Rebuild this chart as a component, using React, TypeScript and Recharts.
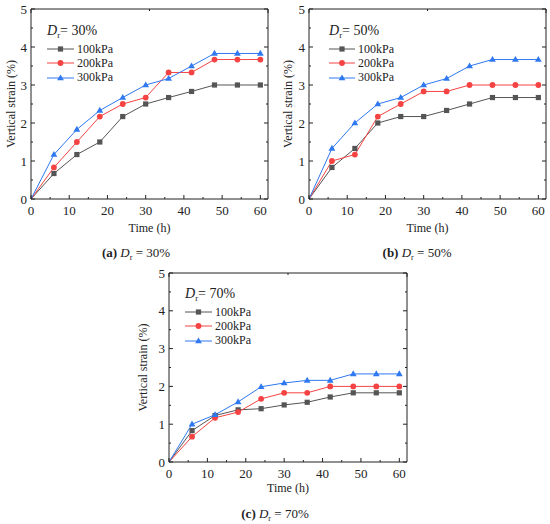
import React from "react";
import { LineChart, Line, XAxis, YAxis, Legend } from "recharts";

const FONT = '"Liberation Serif", "Times New Roman", serif';
const INK = "#222";

const hours = [0, 6, 12, 18, 24, 30, 36, 42, 48, 54, 60];
const loads = ["100kPa", "200kPa", "300kPa"];
const colors = ["#555555", "#f54343", "#2f78f0"];

// Dr = 30%
const dr30_100 = [0, 0.67, 1.17, 1.5, 2.17, 2.5, 2.67, 2.83, 3.0, 3.0, 3.0];
const dr30_200 = [0, 0.83, 1.5, 2.17, 2.5, 2.67, 3.33, 3.33, 3.67, 3.67, 3.67];
const dr30_300 = [0, 1.17, 1.83, 2.33, 2.67, 3.0, 3.17, 3.5, 3.83, 3.83, 3.83];

// Dr = 50%
const dr50_100 = [0, 0.83, 1.33, 2.0, 2.17, 2.17, 2.33, 2.5, 2.67, 2.67, 2.67];
const dr50_200 = [0, 1.0, 1.17, 2.17, 2.5, 2.83, 2.83, 3.0, 3.0, 3.0, 3.0];
const dr50_300 = [0, 1.33, 2.0, 2.5, 2.67, 3.0, 3.17, 3.5, 3.67, 3.67, 3.67];

// Dr = 70%
const dr70_100 = [0, 0.83, 1.23, 1.38, 1.41, 1.51, 1.58, 1.72, 1.83, 1.83, 1.83];
const dr70_200 = [0, 0.67, 1.17, 1.32, 1.67, 1.83, 1.83, 2.0, 2.0, 2.0, 2.0];
const dr70_300 = [0, 1.0, 1.25, 1.59, 1.99, 2.09, 2.16, 2.16, 2.33, 2.33, 2.33];

// major + minor ticks
const xTicks = [0, 5, 10, 15, 20, 25, 30, 35, 40, 45, 50, 55, 60];
const yTicks = [0, 0.5, 1, 1.5, 2, 2.5, 3, 3.5, 4, 4.5, 5];

const panels = [
  {
    tag: "a",
    density: "30%",
    series: [dr30_100, dr30_200, dr30_300],
    left: 0,
    top: 0,
    width: 275,
    height: 262,
    margin: { top: 8, left: 30, right: 6, bottom: 62 },
    legend: { left: 47, top: 20, lineW: 27 },
    xLabOff: 23.5,
    yLabOff: 19,
  },
  {
    tag: "b",
    density: "50%",
    series: [dr50_100, dr50_200, dr50_300],
    left: 275,
    top: 0,
    width: 275,
    height: 262,
    margin: { top: 8, left: 33, right: 3, bottom: 62 },
    legend: { left: 54, top: 20, lineW: 26 },
    xLabOff: 23.5,
    yLabOff: 20,
  },
  {
    tag: "c",
    density: "70%",
    series: [dr70_100, dr70_200, dr70_300],
    left: 130,
    top: 262,
    width: 290,
    height: 262,
    margin: { top: 10, left: 38, right: 12, bottom: 61 },
    legend: { left: 55, top: 21, lineW: 27 },
    xLabOff: 20.5,
    yLabOff: 25,
  },
];

const captions = [
  { tag: "a", density: "30%", x: 136, y: 253 },
  { tag: "b", density: "50%", x: 417, y: 253 },
  { tag: "c", density: "70%", x: 275, y: 514 },
];

function Marker({ kind, cx, cy, color }: { kind: number; cx: number; cy: number; color: string }) {
  if (kind === 0) return <rect x={cx - 2.6} y={cy - 2.6} width={5.2} height={5.2} fill={color} />;
  if (kind === 1) return <circle cx={cx} cy={cy} r={2.9} fill={color} />;
  return (
    <polygon
      points={`${cx},${cy - 3.6} ${cx + 3.4},${cy + 2.3} ${cx - 3.4},${cy + 2.3}`}
      fill={color}
    />
  );
}

const makeDot = (kind: number) => (p: any) => {
  if (p.index === 0 || p.cx == null) return <g key={p.key ?? p.index} />;
  return (
    <g key={p.key ?? p.index}>
      <Marker kind={kind} cx={p.cx} cy={p.cy} color={colors[kind]} />
    </g>
  );
};

// inward tick marks (long for major, short for minor) + optional label
const makeTick = (side: "bottom" | "top" | "left" | "right", isMajor: (v: number) => boolean, labels: boolean) =>
  (p: any) => {
    const v = p.payload.value;
    const major = isMajor(v);
    const len = major ? 4 : 2;
    const x = p.x;
    const y = p.y;
    let line;
    let text = null;
    if (side === "bottom") {
      line = <line x1={x} y1={y} x2={x} y2={y - len} stroke={INK} />;
      if (labels && major)
        text = (
          <text x={x} y={y + 15.5} textAnchor="middle" fontSize={13} fontFamily={FONT} fill={INK}>
            {v}
          </text>
        );
    } else if (side === "top") {
      line = <line x1={x} y1={y} x2={x} y2={y + len} stroke={INK} />;
    } else if (side === "left") {
      line = <line x1={x} y1={y} x2={x + len} y2={y} stroke={INK} />;
      if (labels && major)
        text = (
          <text x={x - 4} y={y + 4.5} textAnchor="end" fontSize={13} fontFamily={FONT} fill={INK}>
            {v}
          </text>
        );
    } else {
      line = <line x1={x} y1={y} x2={x - len} y2={y} stroke={INK} />;
    }
    return (
      <g>
        {line}
        {text}
      </g>
    );
  };

const xMajor = (v: number) => v % 10 === 0;
const yMajor = (v: number) => Number.isInteger(v);

function Dr({ size }: { size: number }) {
  return (
    <>
      <i>D</i>
      <span style={{ fontSize: size * 0.62, position: "relative", top: size * 0.22 }}>r</span>
    </>
  );
}

function LegendBox({ payload, density, lineW }: any) {
  return (
    <div style={{ fontFamily: FONT, color: INK }}>
      <div style={{ height: 22, lineHeight: "22px", fontSize: 14, whiteSpace: "nowrap" }}>
        <Dr size={14} />= {density}
      </div>
      {(payload || []).map((item: any, i: number) => (
        <div
          key={item.value}
          style={{ display: "flex", alignItems: "center", height: 14.3, fontSize: 12, whiteSpace: "nowrap" }}
        >
          <svg width={lineW} height={10} style={{ display: "block" }}>
            <line x1={0} y1={5} x2={lineW} y2={5} stroke={item.color} strokeWidth={1} />
            <Marker kind={i} cx={lineW / 2} cy={5} color={item.color} />
          </svg>
          <span style={{ marginLeft: 3 }}>{item.value}</span>
        </div>
      ))}
    </div>
  );
}

function Panel({ cfg }: { cfg: (typeof panels)[number] }) {
  const data = hours.map((h, i) => ({
    h,
    s0: cfg.series[0][i],
    s1: cfg.series[1][i],
    s2: cfg.series[2][i],
  }));
  const labelStyle = { fontSize: 12, fill: INK, fontFamily: FONT, textAnchor: "middle" as const };
  const common = {
    type: "number" as const,
    interval: 0 as const,
    allowDataOverflow: true,
    stroke: INK,
    tickSize: 0,
    tickMargin: 0,
    tickLine: false,
  };
  return (
    <div style={{ position: "absolute", left: cfg.left, top: cfg.top }}>
      <LineChart width={cfg.width} height={cfg.height} data={data} margin={cfg.margin}>
        <XAxis
          xAxisId="b"
          dataKey="h"
          {...common}
          domain={[0, 62]}
          ticks={xTicks}
          height={1}
          tick={makeTick("bottom", xMajor, true)}
          label={{ value: "Time (h)", position: "bottom", offset: cfg.xLabOff, style: labelStyle }}
        />
        <XAxis
          xAxisId="t"
          orientation="top"
          {...common}
          domain={[0, 62]}
          ticks={xTicks}
          height={1}
          tick={makeTick("top", xMajor, false)}
        />
        <YAxis
          yAxisId="l"
          {...common}
          domain={[0, 5]}
          ticks={yTicks}
          width={1}
          tick={makeTick("left", yMajor, true)}
          label={{ value: "Vertical strain (%)", angle: -90, position: "left", offset: cfg.yLabOff, style: labelStyle }}
        />
        <YAxis
          yAxisId="r"
          orientation="right"
          {...common}
          domain={[0, 5]}
          ticks={yTicks}
          width={1}
          tick={makeTick("right", yMajor, false)}
        />
        {loads.map((name, k) => (
          <Line
            key={name}
            xAxisId="b"
            yAxisId="l"
            dataKey={`s${k}`}
            name={name}
            stroke={colors[k]}
            strokeWidth={1}
            dot={makeDot(k)}
            activeDot={false}
            isAnimationActive={false}
          />
        ))}
        <Legend
          layout="vertical"
          verticalAlign="middle"
          align="center"
          wrapperStyle={{ left: cfg.legend.left, top: cfg.legend.top, width: 110 }}
          content={(props: any) => (
            <LegendBox payload={props.payload} density={cfg.density} lineW={cfg.legend.lineW} />
          )}
        />
      </LineChart>
    </div>
  );
}

export default function App() {
  return (
    <div
      style={{
        position: "absolute",
        left: 0,
        top: 0,
        width: 550,
        height: 524,
        background: "#fff",
        fontFamily: FONT,
        color: INK,
      }}
    >
      {panels.map((cfg) => (
        <Panel key={cfg.tag} cfg={cfg} />
      ))}
      {captions.map((c) => (
        <div
          key={c.tag}
          style={{
            position: "absolute",
            left: c.x - 60,
            top: c.y - 8,
            width: 120,
            textAlign: "center",
            fontSize: 13,
            lineHeight: "16px",
            whiteSpace: "nowrap",
          }}
        >
          <b>({c.tag})</b> <Dr size={13} /> = {c.density}
        </div>
      ))}
    </div>
  );
}
